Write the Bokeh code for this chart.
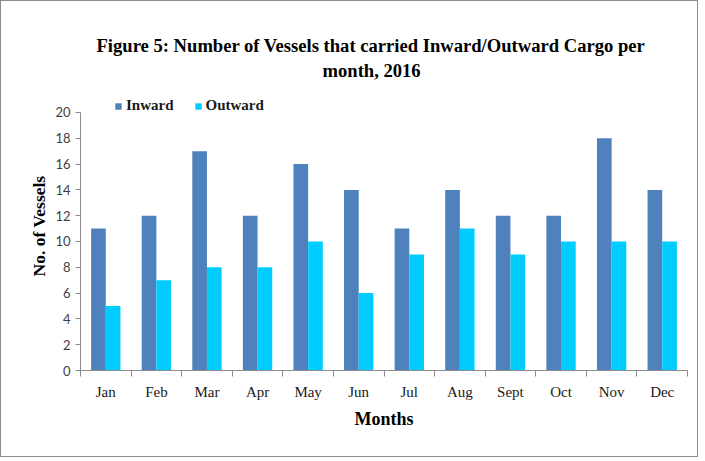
from bokeh.plotting import figure
from bokeh.models import Range1d, FixedTicker, Title, Legend, LegendItem, ColumnDataSource
from bokeh.embed import file_html
from bokeh.resources import INLINE

months = ["Jan", "Feb", "Mar", "Apr", "May", "Jun", "Jul", "Aug", "Sept", "Oct", "Nov", "Dec"]
inward = [11, 12, 17, 12, 16, 14, 11, 14, 12, 12, 18, 14]
outward = [5, 7, 8, 8, 10, 6, 9, 11, 9, 10, 10, 10]
y_ticks = [0, 2, 4, 6, 8, 10, 12, 14, 16, 18, 20]

INWARD_COLOR = "#4F81BD"
OUTWARD_COLOR = "#00CCFF"
SERIF = "Liberation Serif"

n = len(months)
centers = [i + 0.5 for i in range(n)]
bw = 0.29
src = ColumnDataSource(dict(
    x_in=[c - bw / 2 for c in centers],
    x_out=[c + bw / 2 for c in centers],
    inward=inward,
    outward=outward,
))

p = figure(width=698, height=457, output_backend="svg", toolbar_location=None,
           x_range=Range1d(0, n), y_range=Range1d(0, 22.4),
           min_border_left=79, min_border_right=12, min_border_bottom=88, min_border_top=80)
p.styles = {"border": "1px solid #8C8C8C"}
p.outline_line_color = None
p.grid.visible = False
p.background_fill_color = "white"
p.border_fill_color = "white"

r_in = p.vbar(x="x_in", top="inward", width=bw, bottom=0, source=src,
              fill_color=INWARD_COLOR, line_color=None)
r_out = p.vbar(x="x_out", top="outward", width=bw, bottom=0, source=src,
               fill_color=OUTWARD_COLOR, line_color=None)

# x axis: labels at centers, tick marks at category boundaries
xa = p.xaxis[0]
xa.ticker = FixedTicker(ticks=centers, minor_ticks=list(range(n + 1)))
xa.major_label_overrides = {c: m for c, m in zip(centers, months)}
xa.major_tick_line_color = None
xa.minor_tick_line_color = "#8C8C8C"
xa.minor_tick_out = 6
xa.minor_tick_in = 0
xa.axis_line_color = "#8C8C8C"
xa.major_label_text_font = SERIF
xa.major_label_text_font_size = "15px"
xa.major_label_text_color = "#1a1a1a"
xa.major_label_standoff = 7
xa.axis_label = "Months"
xa.axis_label_text_font = SERIF
xa.axis_label_text_font_style = "bold"
xa.axis_label_text_font_size = "18px"
xa.axis_label_text_color = "black"
xa.axis_label_standoff = 6

ya = p.yaxis[0]
ya.ticker = FixedTicker(ticks=y_ticks, minor_ticks=[])
ya.bounds = (0, 20)
ya.axis_line_color = "#8C8C8C"
ya.major_tick_line_color = "#8C8C8C"
ya.major_tick_out = 5
ya.major_tick_in = 0
ya.minor_tick_line_color = None
ya.major_label_text_font = "Lato"
ya.major_label_text_font_size = "13px"
ya.major_label_text_color = "#404040"
ya.major_label_standoff = 5
ya.axis_label = "No. of Vessels"
ya.axis_label_text_font = SERIF
ya.axis_label_text_font_style = "bold"
ya.axis_label_text_font_size = "17.5px"
ya.axis_label_text_color = "black"
ya.axis_label_standoff = 3

legend = Legend(items=[LegendItem(label="Inward", renderers=[r_in]),
                       LegendItem(label="Outward", renderers=[r_out])],
                orientation="horizontal", location=(34, 256),
                glyph_width=8, glyph_height=8, label_standoff=4, spacing=20,
                label_height=14, padding=0, margin=0,
                label_text_font=SERIF, label_text_font_style="bold",
                label_text_font_size="15px", label_text_color="#1a1a1a",
                border_line_color=None, background_fill_alpha=0)
p.add_layout(legend, "center")

t2 = Title(text="month, 2016", align="left", text_font=SERIF, text_font_style="bold",
           text_font_size="18.6px", text_color="black", standoff=2, offset=242)
t1 = Title(text="Figure 5: Number of Vessels that carried Inward/Outward Cargo per",
           align="left", text_font=SERIF, text_font_style="bold",
           text_font_size="18.6px", text_color="black", standoff=2, offset=16)
p.add_layout(t2, "above")
p.add_layout(t1, "above")

open("out.html", "w").write(file_html(p, INLINE))
